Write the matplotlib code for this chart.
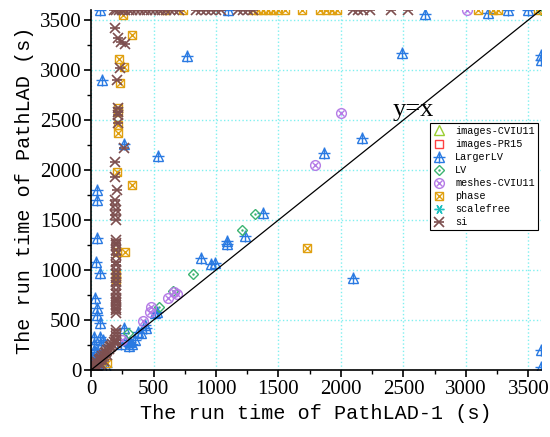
import numpy as np
import matplotlib
matplotlib.use("Agg")
import matplotlib.pyplot as plt
from matplotlib.ticker import MultipleLocator
from matplotlib.lines import Line2D

# ---- data (seconds) ----
si_x = [180, 200, 220, 245, 270, 300, 330, 360, 390, 420, 450, 480, 510, 540, 570, 600, 630, 660, 700,
        840, 880, 920, 960, 1000, 1040, 1180, 1220, 1260, 1300, 2100, 2140, 2180, 2230, 2400, 2540] + \
       [192, 216, 240, 270, 232, 208, 216, 216, 216, 216, 264, 192, 192, 208, 192, 192, 200, 192, 200] + \
       [200] * 26 + \
       [10, 20, 30, 40, 50, 60, 70, 80, 90, 100, 110, 120, 130, 140, 150, 160, 170, 180, 190,
        30, 50, 80, 100, 130, 60]
si_y = [3600] * 35 + \
       [3420, 3320, 3280, 3260, 3020, 2900, 2620, 2580, 2550, 2470, 2220, 2080, 1930, 1800, 1700, 1650, 1600, 1550, 1500] + \
       [1300, 1270, 1250, 1200, 1150, 1080, 1050, 1000, 960, 920, 880, 850, 800, 760, 720, 700, 680, 650, 620,
        600, 570, 400, 370, 340, 300, 270] + \
       [20, 40, 50, 70, 80, 100, 110, 120, 140, 150, 170, 180, 200, 210, 230, 240, 260, 280, 300,
        20, 40, 60, 90, 150, 60]

phase_x = [256, 592, 736, 1300, 1340, 1380, 1420, 1460, 1500, 1550, 1688, 1832, 1880, 1930, 1968,
           3096, 3220, 3260, 3576,
           328, 224, 264, 232, 216, 216, 216, 216, 208, 328, 208, 272, 200, 200, 1728, 128]
phase_y = [3550] + [3600] * 18 + \
          [3350, 3110, 3030, 2870, 2620, 2580, 2450, 2370, 1980, 1850, 1180, 1180, 950, 900, 1220, 70]

larger_x = [72, 1096, 2672, 3176, 3336, 3496, 3600, 3600, 3600, 3600, 88, 48, 48, 766, 536, 264, 1378,
            2488, 2168, 1864, 2096, 1232, 1088, 1088, 880, 960, 992, 512, 432, 48, 40, 72, 32, 48, 48,
            72, 24, 72, 96, 264, 352, 376, 312, 330, 400, 440, 528, 20, 20, 40, 60, 10, 30, 20, 50, 80,
            120, 240, 280, 300]
larger_y = [3600, 3600, 3560, 3570, 3600, 3600, 3150, 3100, 200, 30, 2900, 1800, 1700, 3140, 2140, 2260,
            1570, 3170, 2320, 2170, 920, 1340, 1290, 1260, 1120, 1060, 1070, 570, 450, 1320, 1080, 970,
            720, 620, 550, 470, 330, 330, 300, 420, 300, 380, 280, 260, 370, 420, 580, 260, 200, 180, 150,
            120, 100, 60, 50, 250, 30, 260, 300, 240]

lv_x = [1312, 1208, 816, 656, 544, 296, 3600]
lv_y = [1560, 1400, 960, 790, 630, 370, 3600]

meshes_x = [3008, 2000, 1792, 688, 616, 480, 472, 416, 248, 660]
meshes_y = [3600, 2570, 2050, 760, 720, 630, 580, 490, 300, 780]

cviu_x, cviu_y = [2, 4], [3, 5]
pr15_x, pr15_y = [3, 5], [2, 4]
scalefree_x, scalefree_y = [3, 6], [4, 6]

names = ['images-CVIU11', 'images-PR15', 'LargerLV', 'LV', 'meshes-CVIU11', 'phase', 'scalefree', 'si']

fig = plt.figure(figsize=(5.5, 4.37), dpi=100)
ax = fig.add_axes([0.1655, 0.1533, 0.818, 0.824])

ms = 7
yg, red, blue, green = '#9acd32', '#ff4040', '#2a7ae2', '#3cb371'
purple, orange, cyan, brown = '#b57be6', '#e0a010', '#20c0c0', '#7d4f4f'

# each series: list of (marker, size, mew, filled) layers
styles = [
    (yg, [('^', ms, 1.0, False)]),
    (red, [('s', ms - 1, 1.0, False)]),
    (blue, [('^', ms, 1.0, False), ('+', ms + 2, 1.0, False)]),
    (green, [('D', ms - 1.5, 1.0, False), ('.', 1.5, 1.0, True)]),
    (purple, [('o', ms, 1.0, False), ('x', ms - 2, 1.0, False)]),
    (orange, [('s', ms - 1, 1.0, False), ('x', ms - 1, 1.0, False)]),
    (cyan, [((6, 2, 90), ms, 1.0, False)]),
    (brown, [('x', ms, 1.2, False), ('_', ms, 1.2, False)]),
]
series = [(cviu_x, cviu_y), (pr15_x, pr15_y), (larger_x, larger_y), (lv_x, lv_y),
          (meshes_x, meshes_y), (phase_x, phase_y), (scalefree_x, scalefree_y), (si_x, si_y)]

handles = []
for (xs, ys), (col, layers) in zip(series, styles):
    hs = []
    for mk, size, mew, filled in layers:
        ax.plot(xs, ys, ls='none', marker=mk, ms=size, mew=mew, mec=col,
                mfc=col if filled else 'none')
        hs.append(Line2D([], [], ls='none', marker=mk, ms=size, mew=mew, mec=col,
                         mfc=col if filled else 'none'))
    handles.append(tuple(hs))

# y = x reference
ax.plot([0, 3600], [0, 3600], color='black', lw=0.9)
ax.text(2580, 2600, 'y=x', fontsize=19, family='Liberation Serif', ha='center', va='center')

leg = ax.legend(handles, names, loc='upper left', bbox_to_anchor=(0.753, 0.686),
                prop={'family': 'Liberation Mono', 'size': 7.3},
                fancybox=False, edgecolor='black', framealpha=1, handlelength=1.2, handletextpad=1.0,
                labelspacing=0.3, borderpad=0.3, borderaxespad=0)
leg.get_frame().set_linewidth(0.8)

ax.set_xlim(0, 3600)
ax.set_ylim(0, 3600)
ax.xaxis.set_major_locator(MultipleLocator(500))
ax.yaxis.set_major_locator(MultipleLocator(500))
ax.xaxis.set_minor_locator(MultipleLocator(250))
ax.yaxis.set_minor_locator(MultipleLocator(250))
ax.grid(True, which='major', color='#80f0f0', ls=':', lw=1.0)
ax.set_axisbelow(True)
for s in ['top', 'right']:
    ax.spines[s].set_visible(False)
for s in ['left', 'bottom']:
    ax.spines[s].set_linewidth(1.2)
ax.tick_params(which='major', length=5, width=1.2, labelsize=15, pad=2)
ax.tick_params(which='minor', length=3, width=1.0)
for lab in ax.get_xticklabels() + ax.get_yticklabels():
    lab.set_family('Liberation Serif')

ax.set_xlabel('The run time of PathLAD-1 (s)', family='Liberation Mono', fontsize=14.5, labelpad=4)
ax.set_ylabel('The run time of PathLAD (s)', family='Liberation Mono', fontsize=14.5, labelpad=4)

fig.savefig('out.png', dpi=100)
